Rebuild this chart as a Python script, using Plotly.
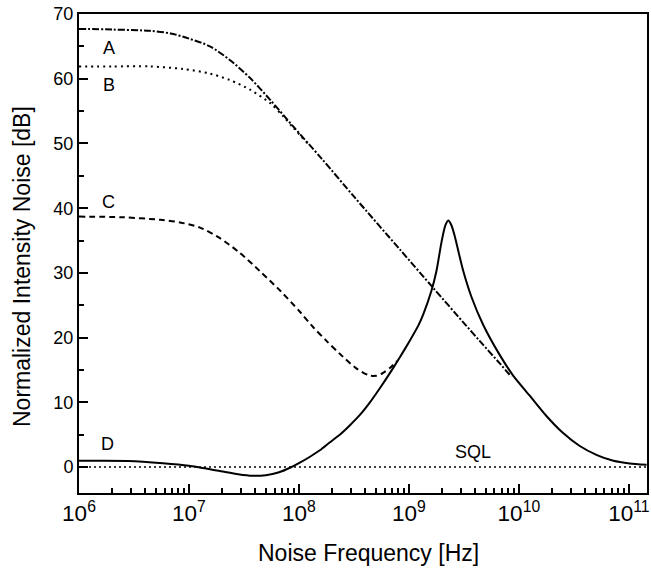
import math
import plotly.graph_objects as go

# ---- data ----
a_freq = [1e6, 2e6, 4.4e6, 6.8e6, 1.0e7, 1.55e7, 2.35e7, 3.6e7, 5.5e7, 8.9e7,
          1.6e8, 3.2e8, 8.3e8, 1.66e9, 3.3e9, 4.4e9, 6.8e9, 8.5e9]
a_db = [67.7, 67.6, 67.4, 67.0, 66.2, 65.0, 62.9, 60.1, 56.7, 52.6,
        47.7, 41.7, 33.6, 27.7, 21.9, 19.5, 15.9, 14.0]

b_freq = [1e6, 2e6, 4.4e6, 8.9e6, 1.55e7, 2.35e7, 3.6e7, 5.5e7, 7.2e7, 8.9e7, 1.2e8]
b_db = [61.9, 61.9, 61.9, 61.5, 60.8, 59.8, 58.3, 56.2, 54.2, 52.4, 50.0]

c_freq = [1e6, 2.5e6, 5.5e6, 8.3e6, 1.26e7, 1.9e7, 2.9e7, 4.4e7, 6.8e7, 1.02e8,
          1.35e8, 1.78e8, 2.35e8, 3.3e8, 4.3e8, 5.0e8, 5.75e8, 6.8e8, 7.8e8]
c_db = [38.7, 38.6, 38.2, 37.8, 37.0, 35.4, 33.1, 30.3, 27.2, 24.0,
        21.6, 19.5, 17.5, 15.3, 14.2, 14.1, 14.5, 15.4, 16.4]

d_freq = [1e6, 2.8e6, 5.8e6, 1e7, 1.86e7, 2.8e7, 3.76e7, 5.0e7, 6.6e7, 8.3e7, 1.0e8,
          1.26e8, 1.55e8, 1.9e8, 2.35e8, 2.88e8, 3.6e8, 4.42e8, 5.5e8, 6.76e8,
          8.3e8, 1.0e9, 1.22e9, 1.35e9, 1.6e9, 1.78e9, 1.98e9,
          2.14e9, 2.28e9, 2.43e9, 2.62e9, 2.82e9, 3.12e9, 3.72e9, 4.73e9, 6.71e9, 8.9e9,
          1.26e10, 1.78e10, 2.51e10, 3.55e10, 5.13e10, 7.24e10, 1.02e11, 1.45e11]
d_db = [0.97, 0.95, 0.6, 0.2, -0.57, -1.1, -1.34, -1.25, -0.8, -0.1, 0.6,
        1.6, 2.6, 3.8, 5.0, 6.4, 8.1, 10.0, 12.3, 14.6,
        17.0, 19.3, 21.9, 23.6, 27.2, 30.3, 34.8,
        37.3, 38.1, 37.4, 35.6, 33.3, 30.3, 26.2, 22.0, 17.3, 14.1,
        11.0, 7.9, 5.3, 3.3, 1.85, 0.97, 0.57, 0.36]

sql_freq = [1e6, 1.46e11]
sql_db = [0, 0]

labels = ["A", "B", "C", "D", "SQL"]
label_freq = [1.86e6, 1.86e6, 1.86e6, 1.8e6, 3.8e9]
label_db = [64.7, 59.0, 41.0, 3.5, 2.3]

y_ticks = [0, 10, 20, 30, 40, 50, 60, 70]
x_title = "Noise Frequency [Hz]"
y_title = "Normalized Intensity Noise [dB]"

FONT = "Liberation Sans, Arial, sans-serif"

# ---- figure ----
fig = go.Figure()
fig.add_trace(go.Scatter(x=sql_freq, y=sql_db, mode="lines",
                         line=dict(color="black", width=1.5, dash="2px,3px")))
fig.add_trace(go.Scatter(x=c_freq, y=c_db, mode="lines",
                         line=dict(color="black", width=2, dash="6px,4px",
                                   shape="spline", smoothing=0.8)))
fig.add_trace(go.Scatter(x=b_freq, y=b_db, mode="lines",
                         line=dict(color="black", width=2, dash="2px,4px",
                                   shape="spline", smoothing=0.8)))
fig.add_trace(go.Scatter(x=a_freq, y=a_db, mode="lines",
                         line=dict(color="black", width=2, dash="7px,2px,2px,2px",
                                   shape="spline", smoothing=0.8)))
fig.add_trace(go.Scatter(x=d_freq, y=d_db, mode="lines",
                         line=dict(color="black", width=2, shape="spline", smoothing=0.6)))

for t, fx, fy in zip(labels, label_freq, label_db):
    fig.add_annotation(x=math.log10(fx), y=fy, text=t, showarrow=False,
                       xref="x", yref="y",
                       font=dict(family=FONT, size=18, color="black"))

# axis titles (positions given in pixels, converted below)
fig.add_annotation(x=368, y=553, xref="paper", yref="paper", text=x_title,
                   showarrow=False, font=dict(family=FONT, size=23, color="black"))
fig.add_annotation(x=22, y=267, xref="paper", yref="paper", text=y_title,
                   textangle=-90, showarrow=False,
                   font=dict(family=FONT, size=23, color="black"))

W, H = 651, 572
L, R, T, B = 79, 4, 14, 79
fig.update_layout(
    width=W, height=H,
    margin=dict(l=L, r=R, t=T, b=B),
    paper_bgcolor="white", plot_bgcolor="white",
    showlegend=False,
    font=dict(family=FONT, size=18, color="black"),
)
pw, ph = W - L - R, H - T - B
for ann in fig.layout.annotations:
    if ann.xref == "paper":
        ann.x = (ann.x - L) / pw
        ann.y = 1 - (ann.y - T) / ph
        ann.xanchor = "center"
        ann.yanchor = "middle"

fig.update_xaxes(
    type="log", range=[6, 11.165], automargin=False,
    dtick=1, exponentformat="power",
    ticks="inside", ticklen=9, tickwidth=1.5, tickcolor="black",
    minor=dict(dtick="D1", ticks="inside", ticklen=5, tickwidth=1.5,
               tickcolor="black", showgrid=False),
    showline=True, linewidth=2, linecolor="black", mirror=True,
    showgrid=False, zeroline=False,
    tickfont=dict(size=18),
)
fig.update_yaxes(
    range=[-4, 70], tickvals=y_ticks, automargin=False,
    ticks="inside", ticklen=9, tickwidth=1.5, tickcolor="black",
    minor=dict(dtick=5, ticks="inside", ticklen=5, tickwidth=1.5,
               tickcolor="black", showgrid=False),
    showline=True, linewidth=2, linecolor="black", mirror=True,
    showgrid=False, zeroline=False,
    tickfont=dict(size=18),
)

fig.write_html("out.html", config={"displayModeBar": False},
               post_script="document.body.style.margin='0';document.body.style.padding='0';")
